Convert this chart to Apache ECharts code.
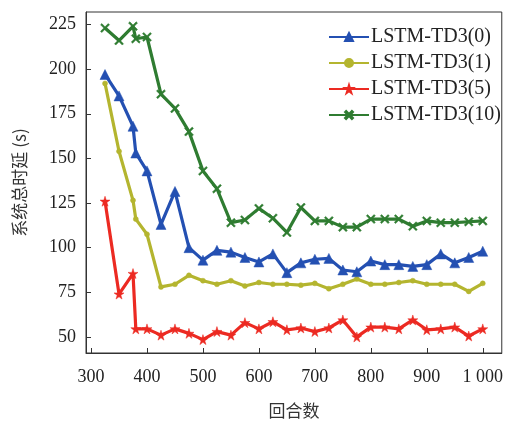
<!DOCTYPE html>
<html>
<head>
<meta charset="utf-8">
<script src="https://cdn.jsdelivr.net/npm/echarts@6/dist/echarts.min.js"></script>
<style>
  html, body { margin: 0; padding: 0; background: #fff; }
  #chart { width: 506px; height: 424px; }
</style>
</head>
<body>
<div id="chart"></div>
<script>
// 回合数
var episodes = [325, 350, 375, 380, 400, 425, 450, 475, 500, 525, 550, 575, 600, 625, 650, 675, 700, 725, 750, 775, 800, 825, 850, 875, 900, 925, 950, 975, 1000];

var td3_0 = [197, 185, 168, 153, 143, 113, 131.5, 100, 93, 98.5, 97.5, 94.5, 92, 96.5, 86, 91.5, 93.5, 94, 87.5, 86.5, 92.5, 90.5, 90.5, 89.5, 90.5, 96.5, 91.5, 94.5, 98];
var td3_1 = [192, 154, 126.5, 116, 107.5, 78, 79.5, 84.5, 81.5, 79.5, 81.5, 78.5, 80.5, 79.5, 79.5, 79, 80, 77, 79.5, 82.5, 79.5, 79.5, 80.5, 81.5, 79.5, 79.5, 79.5, 75.5, 80];
var td3_5 = [126, 74, 85.5, 54.5, 54.5, 51, 54.5, 52, 48.5, 53, 51, 58, 54.5, 58.5, 54, 55, 53, 55, 59.5, 50, 55.5, 55.5, 54.5, 59.5, 54, 54.5, 55.5, 50.5, 54.5];
var td3_10 = [223, 216, 224, 217, 218, 186, 178, 165, 143, 133, 114, 115.5, 122, 116.5, 108.5, 122.5, 115, 115, 111.5, 111.5, 116, 116, 116, 112, 115, 114, 114, 114.5, 115];

var seriesNames = ['LSTM-TD3(0)', 'LSTM-TD3(1)', 'LSTM-TD3(5)', 'LSTM-TD3(10)'];
var xTicks = [300, 400, 500, 600, 700, 800, 900, 1000];
var yTicks = [50, 75, 100, 125, 150, 175, 200, 225];

var colors = ['#2450b2', '#b4b52f', '#ec2a22', '#2f7c31'];
var STAR = 'path://M50,0 L61,35 L98,35 L68,57 L79,91 L50,70 L21,91 L32,57 L2,35 L39,35 Z';
var XMARK = 'path://M0,14 L14,0 L50,36 L86,0 L100,14 L64,50 L100,86 L86,100 L50,64 L14,100 L0,86 L36,50 Z';
var symbols = ['triangle', 'circle', STAR, XMARK];
var symbolSizes = [10, 5, 10, 9];

var serif = '"Liberation Serif", "Times New Roman", serif';
var cjk = '"Noto Sans CJK SC", sans-serif';

function pairs(ys) {
  return episodes.map(function (x, i) { return [x, ys[i]]; });
}

var allData = [td3_0, td3_1, td3_5, td3_10];

var myChart = echarts.init(document.getElementById('chart'));
myChart.setOption({
  animation: false,
  backgroundColor: '#fff',
  grid: { left: 86, right: 4, top: 12, bottom: 68, show: true, borderColor: '#333', borderWidth: 1 },
  legend: {
    orient: 'vertical',
    left: 323,
    top: 22,
    itemWidth: 40,
    itemHeight: 10,
    itemGap: 6,
    data: seriesNames,
    textStyle: { fontFamily: serif, fontSize: 20, color: '#222', padding: [0, 0, 0, -3] }
  },
  xAxis: {
    type: 'value',
    min: 291,
    max: 1034,
    name: '回合数',
    nameLocation: 'middle',
    nameGap: 49,
    nameTextStyle: { fontFamily: cjk, fontSize: 17, color: '#333' },
    axisLine: { show: true, lineStyle: { color: '#333', width: 1 } },
    axisTick: { show: true, inside: true, length: 5, customValues: xTicks, lineStyle: { color: '#333' } },
    axisLabel: {
      customValues: xTicks,
      margin: 15,
      fontFamily: serif, fontSize: 18, color: '#222',
      formatter: function (v) { return v === 1000 ? '1 000' : String(v); }
    },
    splitLine: { show: false }
  },
  yAxis: {
    type: 'value',
    min: 41,
    max: 232,
    name: '系统总时延 (s)',
    nameLocation: 'middle',
    nameGap: 58,
    nameRotate: 90,
    nameTextStyle: { fontFamily: cjk, fontSize: 17, color: '#333' },
    axisLine: { show: true, lineStyle: { color: '#333', width: 1 } },
    axisTick: { show: true, inside: true, length: 5, customValues: yTicks, lineStyle: { color: '#333' } },
    axisLabel: { customValues: yTicks, margin: 10, fontFamily: serif, fontSize: 18, color: '#222' },
    splitLine: { show: false }
  },
  series: seriesNames.map(function (name, i) {
    return {
      name: name,
      type: 'line',
      data: pairs(allData[i]),
      symbol: symbols[i],
      symbolSize: symbolSizes[i],
      showAllSymbol: true,
      color: colors[i],
      lineStyle: { width: 3.2, color: colors[i] },
      itemStyle: { color: colors[i], borderColor: colors[i], borderWidth: 0.5 },
      z: 10 - i
    };
  })
});
window.addEventListener('resize', function () {
  myChart.resize();
});
</script>
</body>
</html>
